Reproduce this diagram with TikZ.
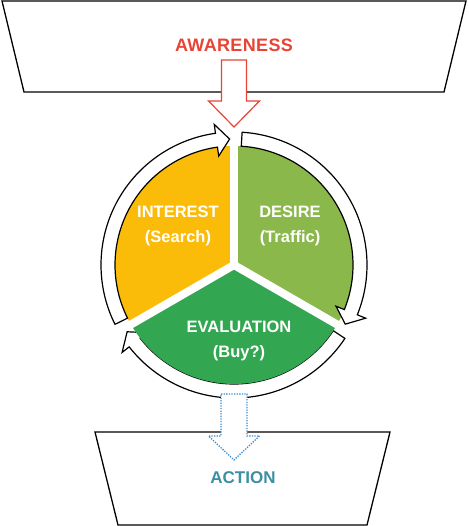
\documentclass[tikz,border=0pt]{standalone}
\usepackage{fontspec}
\setmainfont{Liberation Sans}
\usepackage{xcolor}
\usepackage{tikz}
\usetikzlibrary{arrows.meta,positioning,calc}
\definecolor{awarered}{HTML}{E94335}
\definecolor{actionteal}{HTML}{3E8FA3}
\definecolor{actionblue}{HTML}{3C8DD0}
\definecolor{interestyellow}{HTML}{FBBC09}
\definecolor{desiregreen}{HTML}{8AB84A}
\definecolor{evalgreen}{HTML}{33A652}
\newcommand{\cyclearrow}[2]{%
	\pgfmathsetmacro\headangle{#2+6}
	\filldraw[ringarrow] (#1:119) arc[start angle=#1, end angle=\headangle, radius=119]
		-- (\headangle:110) -- (#2:126) -- (\headangle:142) -- (\headangle:133)
		arc[start angle=\headangle, end angle=#1, radius=133] -- cycle;
}

\begin{document}
\begin{tikzpicture}[x=1pt,y=1pt,
	funnel/.style={draw=black, line width=1.3pt, fill=white},
	ringarrow/.style={draw=black, line width=1.2pt, fill=white},
	stagetext/.style={text=white, font=\fontsize{16.5}{25}\selectfont\bfseries, align=center}]
	\useasboundingbox (0,0) rectangle (468,526);
	
	\draw[funnel] (2,525) -- (466,525) -- (444,434) -- (24,434) -- cycle;
	\draw[funnel] (95,94) -- (390,94) -- (367,1) -- (118,1) -- cycle;
	
	\node[text=awarered, font=\fontsize{18}{20}\selectfont\bfseries] (awareness) at (234,481) {\addfontfeatures{LetterSpace=2}AWARENESS};
	\node[text=actionteal, font=\fontsize{17}{20}\selectfont\bfseries] (action) at (243,48) {ACTION};
	
	\draw[draw=awarered, line width=1.2pt, fill=white] (221.5,466) -- (246.5,466) -- (246.5,425) -- (259.5,425)
		-- (234,399) -- (208.5,425) -- (221.5,425) -- cycle;
	
	\coordinate (C) at (234,261);
	\begin{scope}[shift={(C)}]
		\cyclearrow{326.5}{212}
		\fill[interestyellow] (0,0) -- (90:119) arc[start angle=90, end angle=210, radius=119] -- cycle;
		\fill[desiregreen] (0,0) -- (-30:119) arc[start angle=-30, end angle=90, radius=119] -- cycle;
		\fill[evalgreen] (0,0) -- (210:119) arc[start angle=210, end angle=330, radius=119] -- cycle;
		\foreach \a in {90,210,330}
			\draw[white, line width=8pt, line cap=round] (0,0) -- (\a:119);
		\cyclearrow{206.5}{92}
		\cyclearrow{86.5}{-28}
	\end{scope}
	
	\node[stagetext] (interest) at (178,300.5) {INTEREST\\(Search)};
	\node[stagetext] (desire) at (290,300) {DESIRE\\(Traffic)};
	\node[stagetext] (evaluation) at (239,185) {EVALUATION\\(Buy?)};
	
	\draw[draw=actionblue, line width=1.3pt, dash pattern=on 1.3pt off 1.3pt, fill=white] (221,132) -- (247,132) -- (247,90)
		-- (259.5,90) -- (234,66) -- (208.5,90) -- (221,90) -- cycle;
\end{tikzpicture}
\end{document}
